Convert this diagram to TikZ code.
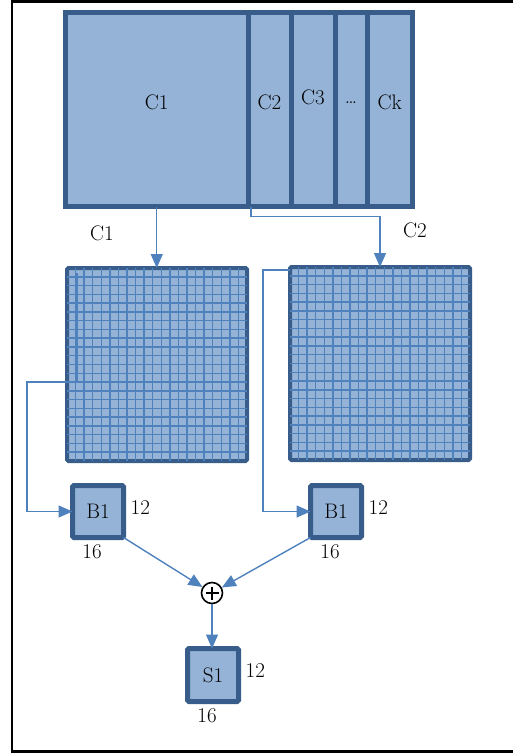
\documentclass[tikz,border=0pt]{standalone}
\usepackage{fontspec}
\usetikzlibrary{arrows.meta, positioning, calc}
\definecolor{boxfill}{HTML}{95B3D7}
\definecolor{boxline}{HTML}{385D8A}
\definecolor{linkblue}{HTML}{4F81BD}
\begin{document}
\begin{tikzpicture}[x=1pt,y=-1pt,>={Triangle[length=14pt,width=12pt]},
      font=\fontsize{21}{24}\selectfont,
      col/.style={draw=boxline,fill=boxfill,line width=5pt,outer sep=0pt,inner sep=0pt,minimum height=194pt},
      matbox/.style={draw=boxline,fill=boxfill,line width=4pt,outer sep=0pt,minimum width=180pt,minimum height=193pt,rounded corners=1.5pt},
      blk/.style={draw=boxline,fill=boxfill,line width=5pt,outer sep=0pt,minimum width=51pt,minimum height=52pt,rounded corners=1.5pt},
      dimr/.style={label distance=5pt,inner sep=2pt,yshift=4pt},
      dimb/.style={label distance=5pt,inner sep=2pt,xshift=-6pt},
      cell/.style={draw=linkblue,line width=1.5pt},
      link/.style={color=linkblue,line width=1.4pt,->}]
      \useasboundingbox (0,0) rectangle (513,753);
      \draw[line width=2.5pt] (513,1.5) -- (12,1.5) -- (12,751.5) -- (513,751.5);
      % columns of the input
      \node[col, minimum width=182.5pt, label={[yshift=7pt]center:C1}] (c_1) at (156.75,109.5) {};
      \node[col, minimum width=43pt, label={[yshift=7pt]center:C2}]   (c_2) [right=0pt of c_1] {};
      \node[col, minimum width=44pt, label={[yshift=12pt]center:C3}]  (c_3) [right=0pt of c_2] {};
      \node[col, minimum width=32pt, label={[yshift=7pt]center:\dots}] (c_dots) [right=0pt of c_3] {};
      \node[col, minimum width=45.5pt, label={[yshift=7pt]center:Ck}] (c_k) [right=0pt of c_dots] {};
      \node (lab_1) at (102,233) {C1};
      \node (lab_2) at (415,230) {C2};
      % matrices
      \node[matbox] (m_1) at (157,364.5) {};
      \node[matbox] (m_2) at (380,363.5) {};
      \foreach \m in {m_1,m_2} {
        \foreach \i in {1,...,20}
          \draw[cell] ($(\m.north west)!\i/21!(\m.north east)$) -- ($(\m.south west)!\i/21!(\m.south east)$);
        \foreach \j in {1,...,21}
          \draw[cell] ($(\m.north west)!\j/22!(\m.south west)$) -- ($(\m.north east)!\j/22!(\m.south east)$);
      }
      % blocks
      \node[blk, label={[dimr]east:12}, label={[dimb]south:16}] (b_1) at (98,511.5) {B1};
      \node[blk, label={[dimr]east:12}, label={[dimb]south:16}] (b_2) at (336,511.5) {B1};
      \node[circle, draw, fill=white, line width=1.6pt, minimum size=21pt, inner sep=0pt,
            path picture={\draw[line width=1.8pt]
              ([yshift=-4pt]path picture bounding box.north) -- ([yshift=4pt]path picture bounding box.south)
              ([xshift=4pt]path picture bounding box.west) -- ([xshift=-4pt]path picture bounding box.east);}]
            (sum) at (212,593) {};
      \node[blk, minimum height=53pt, label={[dimr]east:12}, label={[dimb]south:16}] (s_1) at (213,675) {S1};
      \coordinate (tap_1) at ([xshift=10pt,yshift=-5pt]m_1.north west);
      \coordinate (tap_2) at ([yshift=-3pt]m_2.north west);
      \path
      (c_1.south) edge[link] (c_1.south |- m_1.north)
      (b_1.south east) edge[link] (sum)
      (b_2.south west) edge[link] (sum)
      (sum) edge[link] (sum |- s_1.north);
      \draw[link] ([xshift=3pt]c_2.south west) -- ++(0,10) -| (m_2.north);
      \draw[link] (tap_1) -- ++(0,109) -- ++(-50,0) |- (b_1.west);
      \draw[link] (tap_2) -- ++(-27,0) |- (b_2.west);
    \end{tikzpicture}
\end{document}
